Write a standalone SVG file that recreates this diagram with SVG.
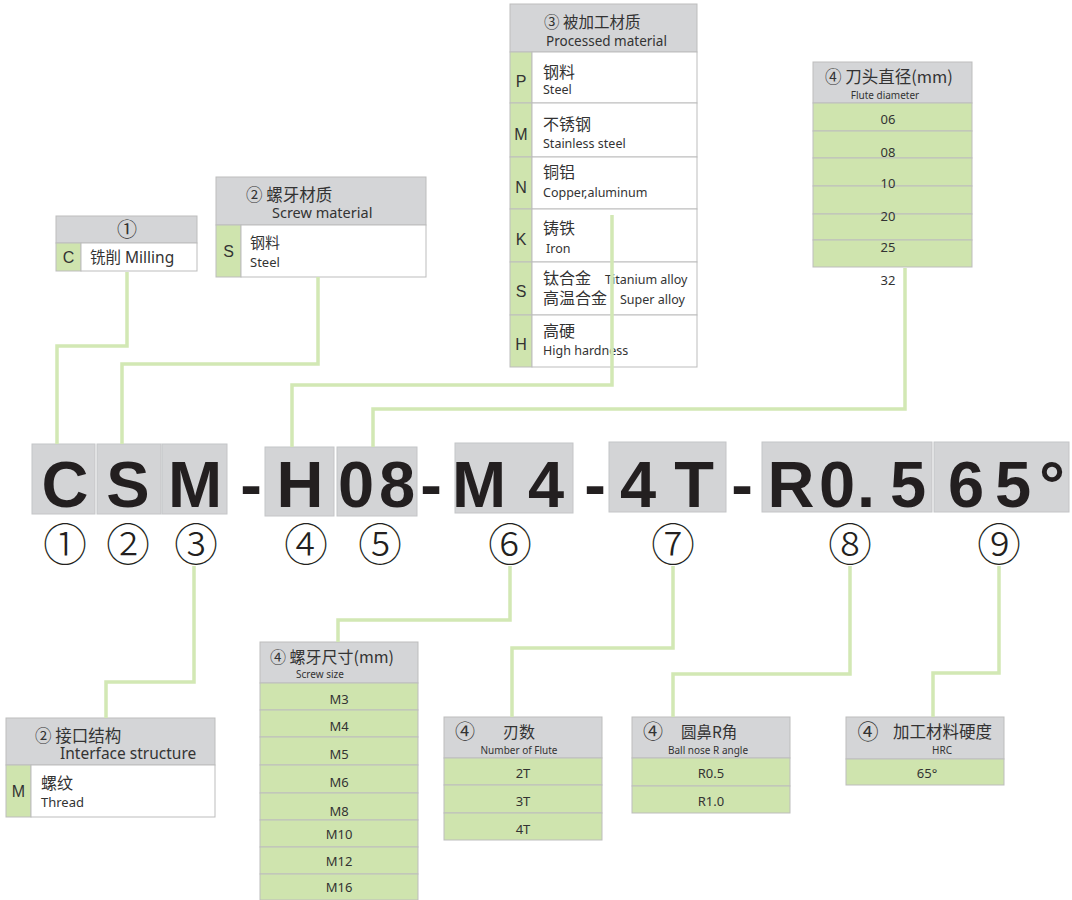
<svg xmlns="http://www.w3.org/2000/svg" width="1072" height="900" viewBox="0 0 1072 900">
<style>
.bg{fill:#ffffff}
.hdr{fill:#d4d5d7;stroke:#bdbdbd;stroke-width:1}
.cell{fill:#ffffff;stroke:#bdbdbd;stroke-width:1}
.gc{fill:#cfe4ae;stroke:#bdbdbd;stroke-width:1}
.code{fill:#d3d4d6;stroke:#c4c5c7;stroke-width:1}
.con{fill:none;stroke:#d2e8b4;stroke-width:3.5}
.big{font-family:"Liberation Sans",Arial,sans-serif;font-weight:bold;font-size:65px;fill:#231f20;text-anchor:middle}
.num{font-family:"Noto Sans CJK SC",sans-serif;font-weight:300;font-size:44px;fill:#231f20;text-anchor:middle}
.cn{font-family:"Noto Sans CJK SC",sans-serif;fill:#333333}
.en{font-family:"Noto Sans","Noto Sans CJK SC",sans-serif;fill:#333333}
.lt{font-family:"Liberation Sans",Arial,sans-serif;font-size:16px;fill:#333333;text-anchor:middle}
.mid{text-anchor:middle}
</style>
<rect class="bg" x="0" y="0" width="1072" height="900"/>

<g id="opt-milling">
<rect class="hdr" x="56" y="216" width="141" height="27"/>
<rect class="gc" x="56" y="243" width="25" height="28"/>
<rect class="cell" x="81" y="243" width="116" height="28"/>
<text class="cn mid" x="127" y="237" font-size="20">①</text>
<text class="lt" x="68.5" y="263">C</text>
<text class="en" x="90" y="263" font-size="15.5">铣削 Milling</text>
</g>

<g id="opt-screw-material">
<rect class="hdr" x="216" y="177" width="210" height="48"/>
<rect class="gc" x="216" y="225" width="25" height="52"/>
<rect class="cell" x="241" y="225" width="185" height="52"/>
<text class="cn" x="246" y="201" font-size="16.5">② 螺牙材质</text>
<text class="en" x="272" y="218" font-size="14.5">Screw material</text>
<text class="lt" x="228.5" y="257">S</text>
<text class="cn" x="250" y="248" font-size="15">钢料</text>
<text class="en" x="250" y="267" font-size="13">Steel</text>
</g>

<g id="opt-processed-material">
<rect class="hdr" x="510" y="4" width="187" height="48"/>
<rect class="gc" x="510" y="52" width="22" height="51"/>
<rect class="cell" x="532" y="52" width="165" height="51"/>
<rect class="gc" x="510" y="103" width="22" height="54"/>
<rect class="cell" x="532" y="103" width="165" height="54"/>
<rect class="gc" x="510" y="157" width="22" height="52"/>
<rect class="cell" x="532" y="157" width="165" height="52"/>
<rect class="gc" x="510" y="209" width="22" height="53"/>
<rect class="cell" x="532" y="209" width="165" height="53"/>
<rect class="gc" x="510" y="262" width="22" height="53"/>
<rect class="cell" x="532" y="262" width="165" height="53"/>
<rect class="gc" x="510" y="315" width="22" height="52"/>
<rect class="cell" x="532" y="315" width="165" height="52"/>
<text class="cn" x="544" y="28" font-size="15.5" fill="#555555">③ 被加工材质</text>
<text class="en" x="546" y="46" font-size="13.5">Processed material</text>
<text class="lt" x="521" y="87">P</text>
<text class="lt" x="521" y="140">M</text>
<text class="lt" x="521" y="193">N</text>
<text class="lt" x="521" y="245">K</text>
<text class="lt" x="521" y="297">S</text>
<text class="lt" x="521" y="350">H</text>
<text class="cn" x="543" y="78" font-size="16">钢料</text>
<text class="en" x="543" y="94" font-size="12.5">Steel</text>
<text class="cn" x="543" y="130" font-size="16">不锈钢</text>
<text class="en" x="543" y="148" font-size="12.5">Stainless steel</text>
<text class="cn" x="543" y="178" font-size="16">铜铝</text>
<text class="en" x="543" y="197" font-size="12.5">Copper,aluminum</text>
<text class="cn" x="543" y="234" font-size="16">铸铁</text>
<text class="en" x="546" y="253" font-size="12.5">Iron</text>
<text class="cn" x="543" y="284" font-size="16">钛合金</text>
<text class="en" x="605" y="284" font-size="12.5">Titanium alloy</text>
<text class="cn" x="543" y="304" font-size="16">高温合金</text>
<text class="en" x="620" y="304" font-size="12.5">Super alloy</text>
<text class="cn" x="543" y="337" font-size="16">高硬</text>
<text class="en" x="543" y="355" font-size="12.5">High hardness</text>
</g>

<g id="opt-flute-diameter">
<rect class="hdr" x="813" y="62" width="159" height="41"/>
<rect class="gc" x="813" y="103" width="159" height="28"/>
<rect class="gc" x="813" y="131" width="159" height="27"/>
<rect class="gc" x="813" y="158" width="159" height="28"/>
<rect class="gc" x="813" y="186" width="159" height="28"/>
<rect class="gc" x="813" y="214" width="159" height="26"/>
<rect class="gc" x="813" y="240" width="159" height="27"/>
<text class="cn" x="825" y="83" font-size="16.5">④ 刀头直径(mm)</text>
<text class="en mid" x="885" y="99" font-size="10">Flute diameter</text>
<text class="en mid" x="888" y="124" font-size="13">06</text>
<text class="en mid" x="888" y="157" font-size="13">08</text>
<text class="en mid" x="888" y="188" font-size="13">10</text>
<text class="en mid" x="888" y="221" font-size="13">20</text>
<text class="en mid" x="888" y="252" font-size="13">25</text>
<text class="en mid" x="888" y="285" font-size="13">32</text>
</g>

<g id="code">
<rect class="code" x="32" y="444" width="63" height="70"/>
<rect class="code" x="97" y="444" width="64" height="70"/>
<rect class="code" x="162" y="444" width="65" height="70"/>
<rect class="code" x="265" y="447" width="69" height="69"/>
<rect class="code" x="337" y="447" width="80" height="69"/>
<rect class="code" x="455" y="443" width="118" height="70"/>
<rect class="code" x="609" y="442" width="117" height="70"/>
<rect class="code" x="762" y="442" width="170" height="70"/>
<rect class="code" x="934" y="442" width="135" height="70"/>
<text class="big" x="65" y="507">C</text>
<text class="big" x="128" y="507">S</text>
<text class="big" x="195" y="507">M</text>
<text class="big" x="251" y="507">-</text>
<text class="big" x="300" y="507">H</text>
<text class="big" x="356 397" y="507">08</text>
<text class="big" x="431" y="507">-</text>
<text class="big" x="479 546" y="507">M4</text>
<text class="big" x="595" y="507">-</text>
<text class="big" x="638 694" y="507">4T</text>
<text class="big" x="742" y="507">-</text>
<text class="big" x="791 837 866 884 908" y="507">R0. 5</text>
<text class="big" x="966 1013 1052" y="507">65°</text>
<text class="num" x="65" y="561">①</text>
<text class="num" x="128" y="561">②</text>
<text class="num" x="196" y="561">③</text>
<text class="num" x="306" y="561">④</text>
<text class="num" x="380" y="561">⑤</text>
<text class="num" x="510" y="561">⑥</text>
<text class="num" x="673" y="561">⑦</text>
<text class="num" x="850" y="561">⑧</text>
<text class="num" x="999" y="561">⑨</text>
</g>

<g id="opt-interface">
<rect class="hdr" x="6" y="718" width="209" height="47"/>
<rect class="gc" x="6" y="765" width="25" height="52"/>
<rect class="cell" x="31" y="765" width="184" height="52"/>
<text class="cn" x="35" y="742" font-size="16.5">② 接口结构</text>
<text class="en" x="60" y="759" font-size="15.5">Interface structure</text>
<text class="lt" x="18.5" y="797">M</text>
<text class="cn" x="41" y="789" font-size="16">螺纹</text>
<text class="en" x="41" y="807" font-size="13">Thread</text>
</g>

<g id="opt-screw-size">
<rect class="hdr" x="260" y="642" width="158" height="41"/>
<rect class="gc" x="260" y="683" width="158" height="27"/>
<rect class="gc" x="260" y="710" width="158" height="27"/>
<rect class="gc" x="260" y="737" width="158" height="28"/>
<rect class="gc" x="260" y="765" width="158" height="28"/>
<rect class="gc" x="260" y="793" width="158" height="27"/>
<rect class="gc" x="260" y="820" width="158" height="27"/>
<rect class="gc" x="260" y="847" width="158" height="27"/>
<rect class="gc" x="260" y="874" width="158" height="26"/>
<text class="cn" x="270" y="663" font-size="16">④ 螺牙尺寸(mm)</text>
<text class="en mid" x="320" y="678" font-size="10">Screw size</text>
<text class="en mid" x="339" y="704" font-size="13">M3</text>
<text class="en mid" x="339" y="731" font-size="13">M4</text>
<text class="en mid" x="339" y="759" font-size="13">M5</text>
<text class="en mid" x="339" y="787" font-size="13">M6</text>
<text class="en mid" x="339" y="816" font-size="13">M8</text>
<text class="en mid" x="339" y="839" font-size="13">M10</text>
<text class="en mid" x="339" y="866" font-size="13">M12</text>
<text class="en mid" x="339" y="892" font-size="13">M16</text>
</g>

<g id="opt-flutes">
<rect class="hdr" x="444" y="717" width="158" height="41"/>
<rect class="gc" x="444" y="758" width="158" height="27"/>
<rect class="gc" x="444" y="785" width="158" height="28"/>
<rect class="gc" x="444" y="813" width="158" height="27"/>
<text class="cn mid" x="465" y="739" font-size="20">④</text>
<text class="cn" x="503" y="738" font-size="16">刃数</text>
<text class="en mid" x="519" y="754" font-size="10">Number of Flute</text>
<text class="en mid" x="523" y="778" font-size="13">2T</text>
<text class="en mid" x="523" y="806" font-size="13">3T</text>
<text class="en mid" x="523" y="834" font-size="13">4T</text>
</g>

<g id="opt-ball-nose">
<rect class="hdr" x="632" y="717" width="158" height="41"/>
<rect class="gc" x="632" y="758" width="158" height="28"/>
<rect class="gc" x="632" y="786" width="158" height="27"/>
<text class="cn mid" x="653" y="739" font-size="20">④</text>
<text class="cn" x="681" y="738" font-size="15.5">圆鼻R角</text>
<text class="en mid" x="708" y="754" font-size="10">Ball nose R angle</text>
<text class="en mid" x="711" y="778" font-size="13">R0.5</text>
<text class="en mid" x="711" y="806" font-size="13">R1.0</text>
</g>

<g id="opt-hardness">
<rect class="hdr" x="846" y="717" width="158" height="42"/>
<rect class="gc" x="846" y="759" width="158" height="26"/>
<text class="cn mid" x="868" y="739" font-size="21">④</text>
<text class="cn" x="893" y="738" font-size="16.5">加工材料硬度</text>
<text class="en mid" x="942" y="754" font-size="10">HRC</text>
<text class="en mid" x="927" y="778" font-size="13">65°</text>
</g>

<g id="connectors">
<polyline class="con" points="127,272 127,346 57,346 57,444"/>
<polyline class="con" points="318,277 318,364 122,364 122,444"/>
<polyline class="con" points="612,215 612,385 292,385 292,447"/>
<polyline class="con" points="905,268 905,409 373,409 373,447"/>
<polyline class="con" points="194,566 194,682 106,682 106,718"/>
<polyline class="con" points="510,566 510,620 338,620 338,642"/>
<polyline class="con" points="673,566 673,648 512,648 512,717"/>
<polyline class="con" points="850,566 850,674 673,674 673,717"/>
<polyline class="con" points="999,566 999,673 933,673 933,717"/>
</g>
</svg>
